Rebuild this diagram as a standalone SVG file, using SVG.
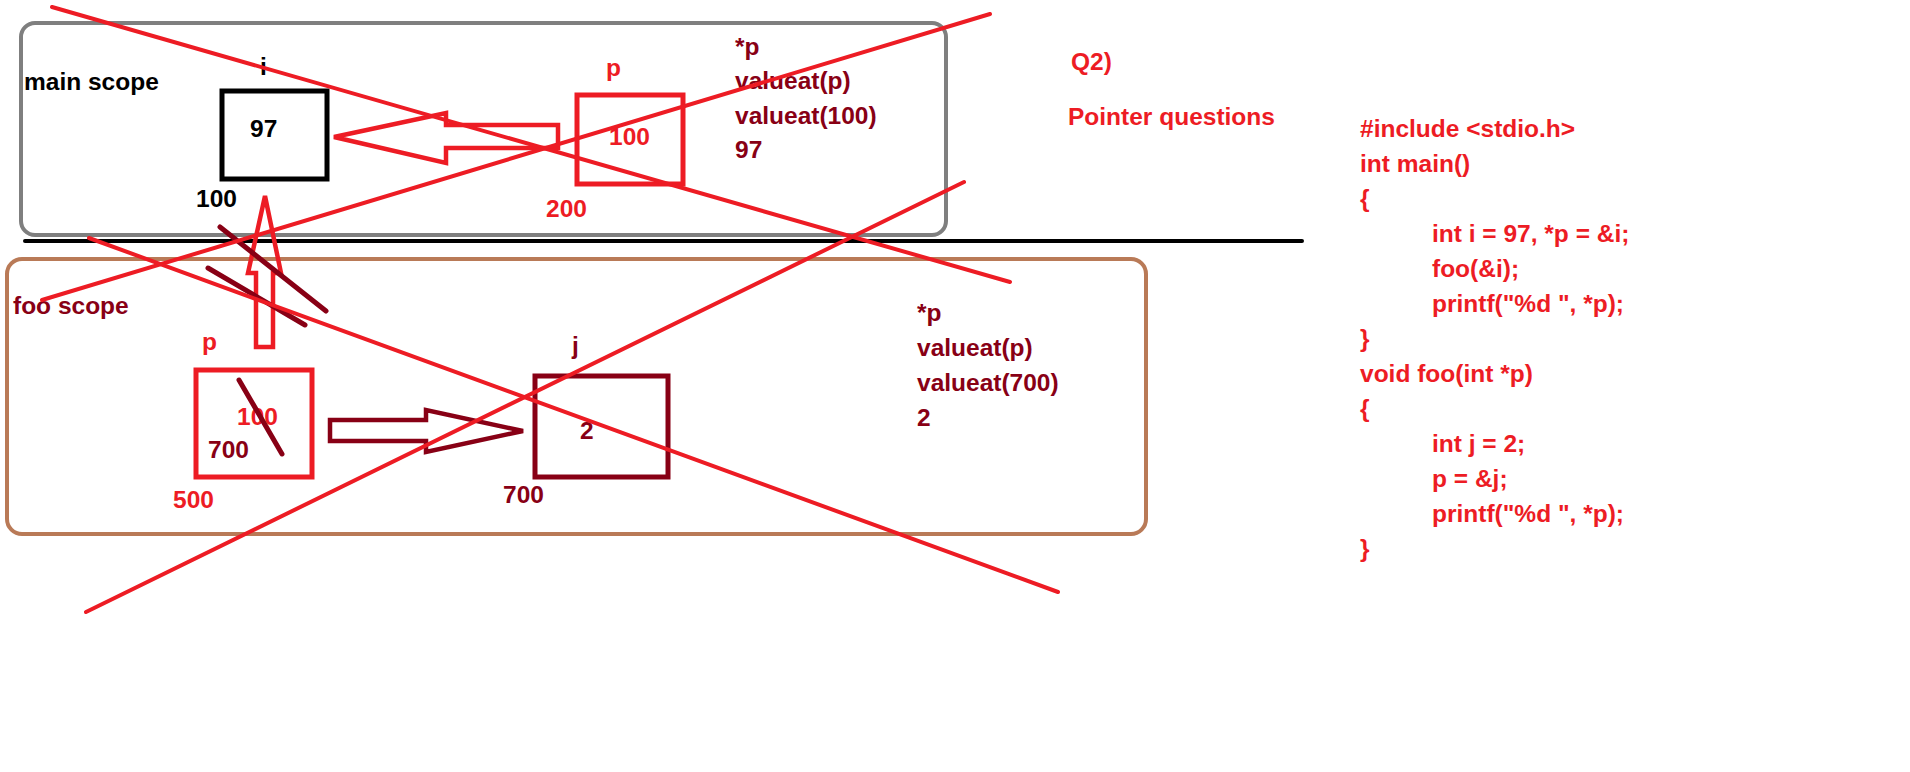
<svg xmlns="http://www.w3.org/2000/svg" width="1910" height="772" viewBox="0 0 1910 772">
<style>
.t{font-family:"Liberation Sans",Arial,sans-serif;font-weight:bold;font-size:24.5px}
.k{fill:#000}
.r{fill:#ed1c24}
.d{fill:#880015}
.box{fill:none;stroke-width:5}
.arrow{fill:none;stroke-width:4.5;stroke-linejoin:miter}
.x{stroke:#ed1c24;stroke-width:4;stroke-linecap:round;fill:none}
.s{stroke:#880015;stroke-width:5;stroke-linecap:round;fill:none}
</style>
<rect width="1910" height="772" fill="#fff"/>
<g id="main-scope">
<rect x="21" y="23" width="925" height="212" rx="14" fill="none" stroke="#7f7f7f" stroke-width="4"/>
<text class="t k" x="24" y="90">main scope</text>
</g>
<line id="divider" x1="25" y1="241" x2="1302" y2="241" stroke="#000" stroke-width="4" stroke-linecap="round"/>
<g id="foo-scope">
<rect x="7" y="259" width="1139" height="275" rx="15" fill="none" stroke="#b97a57" stroke-width="4"/>
<text class="t d" x="13" y="314">foo scope</text>
</g>
<g id="node-i">
<rect class="box" x="222" y="91" width="105" height="88" stroke="#000"/>
<text class="t k" x="260" y="75">i</text>
<text class="t k" x="250" y="137">97</text>
<text class="t k" x="196" y="207">100</text>
</g>
<g id="node-p-main">
<rect class="box" x="577" y="95" width="106" height="89" stroke="#ed1c24"/>
<text class="t r" x="606" y="76">p</text>
<text class="t r" x="609" y="145">100</text>
<text class="t r" x="546" y="217">200</text>
</g>
<g id="main-notes">
<text class="t d" x="735" y="55">*p</text>
<text class="t d" x="735" y="89">valueat(p)</text>
<text class="t d" x="735" y="124">valueat(100)</text>
<text class="t d" x="735" y="158">97</text>
</g>
<g id="title">
<text class="t r" x="1071" y="70">Q2)</text>
<text class="t r" x="1068" y="125">Pointer questions</text>
</g>
<g id="node-p-foo">
<rect class="box" x="196" y="370" width="116" height="107" stroke="#ed1c24"/>
<text class="t r" x="202" y="350">p</text>
<text class="t r" x="237" y="425">100</text>
<text class="t d" x="208" y="458">700</text>
<text class="t r" x="173" y="508">500</text>
</g>
<g id="node-j">
<rect class="box" x="535" y="376" width="133" height="101" stroke="#880015"/>
<text class="t d" x="572" y="354">j</text>
<text class="t d" x="580" y="439">2</text>
<text class="t d" x="503" y="503">700</text>
</g>
<g id="foo-notes">
<text class="t d" x="917" y="321">*p</text>
<text class="t d" x="917" y="356">valueat(p)</text>
<text class="t d" x="917" y="391">valueat(700)</text>
<text class="t d" x="917" y="426">2</text>
</g>
<g id="code">
<text class="t r" x="1360" y="137">#include &lt;stdio.h&gt;</text>
<text class="t r" x="1360" y="172">int main()</text>
<text class="t r" x="1360" y="207">{</text>
<text class="t r" x="1432" y="242">int i = 97, *p = &amp;i;</text>
<text class="t r" x="1432" y="277">foo(&amp;i);</text>
<text class="t r" x="1432" y="312">printf("%d ", *p);</text>
<text class="t r" x="1360" y="347">}</text>
<text class="t r" x="1360" y="382">void foo(int *p)</text>
<text class="t r" x="1360" y="417">{</text>
<text class="t r" x="1432" y="452">int j = 2;</text>
<text class="t r" x="1432" y="487">p = &amp;j;</text>
<text class="t r" x="1432" y="522">printf("%d ", *p);</text>
<text class="t r" x="1360" y="557">}</text>
</g>
<g id="connectors">
<polygon class="arrow" stroke="#ed1c24" points="334,137 446,113 446,125 558,125 558,148 446,148 446,163"/>
<polygon class="arrow" stroke="#ed1c24" points="265,196 248,273 256,273 256,347 273,347 273,273 281,273"/>
<polygon class="arrow" stroke="#880015" points="330,420 426,420 426,410 523,431 426,452 426,441 330,441"/>
</g>
<g id="scribbles">
<line class="s" x1="220" y1="227" x2="326" y2="311"/>
<line class="s" x1="208" y1="268" x2="305" y2="325"/>
<line class="s" x1="239" y1="380" x2="282" y2="454"/>
</g>
<g id="crossouts">
<line class="x" x1="52" y1="7" x2="1010" y2="282"/>
<line class="x" x1="42" y1="300" x2="990" y2="14"/>
<line class="x" x1="89" y1="238" x2="1058" y2="592"/>
<line class="x" x1="86" y1="612" x2="964" y2="182"/>
</g>
</svg>
